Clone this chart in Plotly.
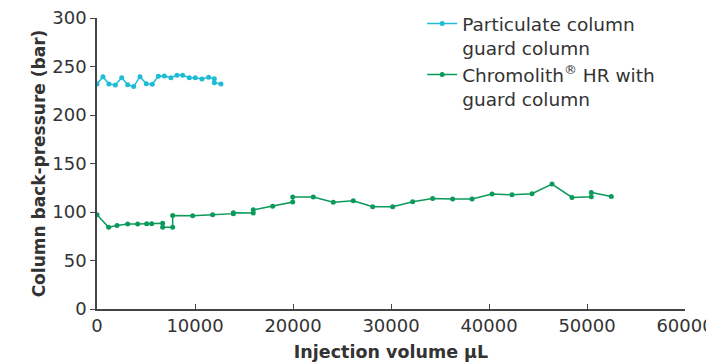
import plotly.graph_objects as go

# Particulate column guard column
part_x = [0, 610, 1220, 1870, 2520, 3130, 3740, 4390, 5030, 5640, 6260, 6870, 7550,
          8160, 8740, 9420, 10030, 10710, 11390, 11970, 11970, 12650]
part_y = [232, 239.5, 232, 231, 238.5, 231.3, 229.3, 239.5, 232.3, 231.7, 240, 240.2,
          238.5, 241, 241, 238.5, 238.5, 237.1, 238.9, 237.5, 233.3, 232]

# Chromolith HR with guard column
chrom_x = [0, 1190, 2040, 3130, 4150, 5070, 5580, 6700, 6700, 7720, 7720, 9760, 11800,
           13910, 13910, 15950, 15950, 17930, 19970, 19970, 22070, 24110, 26150, 28130,
           30170, 32210, 34250, 36290, 38270, 40310, 42350, 44390, 46430, 48470, 50440,
           50440, 52480]
chrom_y = [97.2, 84.2, 86.2, 87.6, 87.6, 88, 88, 88.3, 84.2, 84.2, 96.5, 96.2, 97.2,
           98.3, 99.3, 98.9, 102.2, 105.8, 110.3, 115.4, 115.4, 110, 111.6, 105.5,
           105.5, 110.6, 114, 113.4, 113.4, 118.5, 117.8, 118.8, 128.8, 115, 115.7,
           120.2, 116]

names = ["Particulate column<br>guard column", "Chromolith<sup>®</sup> HR with<br>guard column"]
colors = ["#1fbcd6", "#0a9a5a"]

fig = go.Figure()
fig.add_trace(go.Scatter(x=part_x, y=part_y, mode="lines+markers", name=names[0],
                         line=dict(color=colors[0], width=1.5),
                         marker=dict(color=colors[0], size=5)))
fig.add_trace(go.Scatter(x=chrom_x, y=chrom_y, mode="lines+markers", name=names[1],
                         line=dict(color=colors[1], width=1.5),
                         marker=dict(color=colors[1], size=5)))

axis_color = "#444444"
fig.update_layout(
    width=706, height=354,
    margin=dict(l=89, r=29, t=10, b=52.5, autoexpand=False),
    plot_bgcolor="white", paper_bgcolor="white",
    font=dict(family="DejaVu Sans", size=18, color="#333333"),
    showlegend=True,
    legend=dict(x=0.553, y=1.045, xanchor="left", yanchor="top",
                font=dict(size=18.5, color="#333333"), valign="top",
                tracegroupgap=4, bgcolor="rgba(0,0,0,0)"),
    xaxis=dict(range=[0, 60000], tickvals=[0, 10000, 20000, 30000, 40000, 50000, 60000],
               ticktext=["0", "10000", "20000", "30000", "40000", "50000", "60000"],
               showgrid=False, zeroline=False, showline=True, linecolor=axis_color,
               linewidth=1.5, ticks="inside", ticklen=5, tickcolor=axis_color,
               tickfont=dict(size=18), automargin=False, ticklabeloverflow="allow",
               title=dict(text="<b>Injection volume µL</b>", font=dict(size=17.5), standoff=10)),
    yaxis=dict(range=[0, 300], tickvals=[0, 50, 100, 150, 200, 250, 300],
               showgrid=False, zeroline=False, showline=True, linecolor=axis_color,
               linewidth=1.5, ticks="outside", ticklen=5, tickcolor=axis_color,
               tickfont=dict(size=18), automargin=False, ticklabeloverflow="allow",
               title=dict(text="<b>Column back-pressure (bar)</b>", font=dict(size=17), standoff=2)),
)

fig.write_html("out.html")
